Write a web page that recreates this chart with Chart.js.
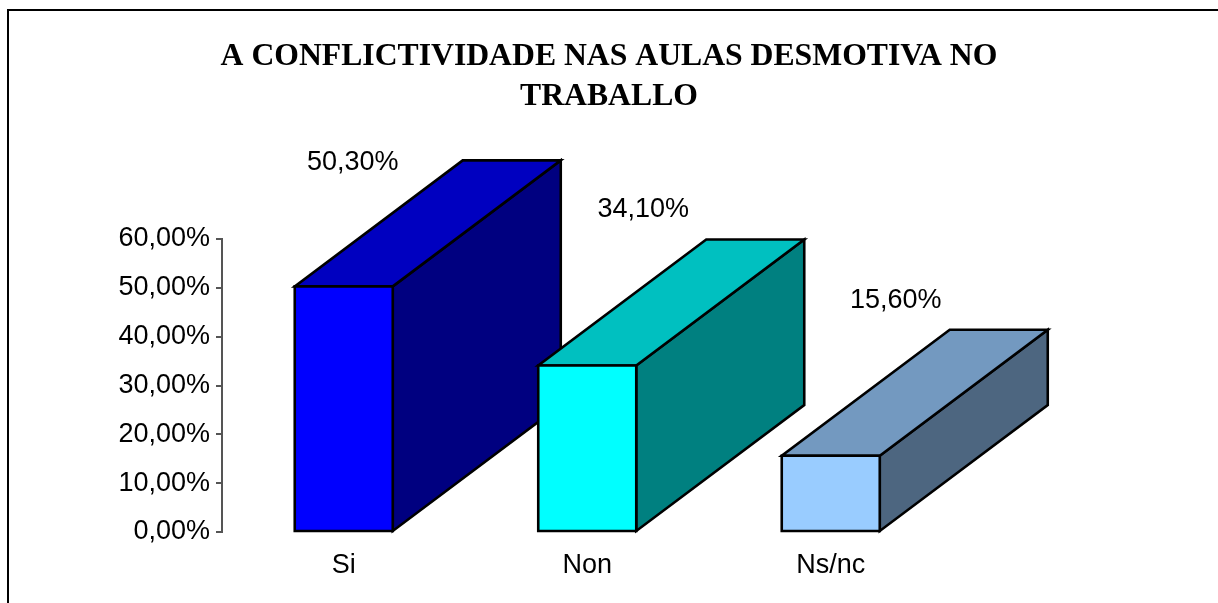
<!DOCTYPE html>
<html><head><meta charset="utf-8">
<script src="https://cdn.jsdelivr.net/npm/chart.js@4.4.0/dist/chart.umd.min.js"></script>
<style>html,body{margin:0;padding:0;background:#fff;overflow:hidden}canvas{display:block}</style>
</head><body>
<canvas id="c" width="1218" height="603"></canvas>
<script>
const categories = ['Si', 'Non', 'Ns/nc'];
const values = [0.503, 0.341, 0.156];
const titleLines = ['A CONFLICTIVIDADE NAS AULAS DESMOTIVA NO', 'TRABALLO'];
const frontColors = ['#0000FF', '#00FFFF', '#99CCFF'];
const topColors = ['#0000C0', '#00C0C0', '#7399C0'];
const sideColors = ['#000080', '#008080', '#4D6680'];

function pct(v) { return (v * 100).toFixed(2).replace('.', ',') + '%'; }

const bar3d = {
  id: 'bar3d',
  beforeDraw(chart, args, opts) {
    const ctx = chart.ctx;
    ctx.save();
    ctx.fillStyle = '#fff';
    ctx.fillRect(0, 0, chart.width, chart.height);
    ctx.strokeStyle = '#000';
    ctx.lineWidth = 2;
    ctx.beginPath();
    ctx.moveTo(8, chart.height);
    ctx.lineTo(8, 10);
    ctx.lineTo(chart.width, 10);
    ctx.stroke();
    ctx.restore();
  },
  beforeDatasetDraw() { return false; },
  afterDatasetsDraw(chart, args, opts) {
    const ctx = chart.ctx;
    const meta = chart.getDatasetMeta(0);
    const ds = chart.data.datasets[0];
    const dx = opts.depthX, dy = opts.depthY;
    ctx.save();
    ctx.lineWidth = 2.6;
    ctx.lineJoin = 'miter';
    ctx.strokeStyle = '#000';
    meta.data.forEach((el, i) => {
      const p = el.getProps(['x', 'y', 'base', 'width'], true);
      const L = p.x - p.width / 2, R = p.x + p.width / 2, T = p.y, B = p.base;
      ctx.beginPath();
      ctx.moveTo(R, T); ctx.lineTo(R + dx, T - dy); ctx.lineTo(R + dx, B - dy); ctx.lineTo(R, B); ctx.closePath();
      ctx.fillStyle = ds.sideColor[i]; ctx.fill(); ctx.stroke();
      ctx.beginPath();
      ctx.moveTo(L, T); ctx.lineTo(R, T); ctx.lineTo(R + dx, T - dy); ctx.lineTo(L + dx, T - dy); ctx.closePath();
      ctx.fillStyle = ds.topColor[i]; ctx.fill(); ctx.stroke();
      ctx.beginPath();
      ctx.rect(L, T, R - L, B - T);
      ctx.fillStyle = ds.backgroundColor[i]; ctx.fill(); ctx.stroke();
    });
    ctx.restore();
  },
  afterDraw(chart, args, opts) {
    const ctx = chart.ctx;
    const meta = chart.getDatasetMeta(0);
    const ds = chart.data.datasets[0];
    ctx.save();
    ctx.font = '27px "Liberation Sans", Arial, sans-serif';
    ctx.fillStyle = '#000';
    ctx.textAlign = 'center';
    ctx.textBaseline = 'alphabetic';
    meta.data.forEach((el, i) => {
      const p = el.getProps(['x', 'y'], true);
      const o = opts.labelOffsets[i];
      ctx.fillText(pct(ds.data[i]), p.x + o[0], p.y + o[1]);
    });
    ctx.restore();
  }
};

new Chart(document.getElementById('c'), {
  type: 'bar',
  data: {
    labels: categories,
    datasets: [{
      data: values,
      backgroundColor: frontColors,
      topColor: topColors,
      sideColor: sideColors,
      borderColor: '#000',
      borderWidth: 2,
      categoryPercentage: 1,
      barPercentage: 0.4025
    }]
  },
  options: {
    responsive: false,
    animation: false,
    layout: { padding: 0 },
    plugins: {
      legend: { display: false },
      tooltip: { enabled: false },
      title: {
        display: true,
        text: titleLines,
        color: '#000',
        font: { family: '"Liberation Serif", "Times New Roman", serif', size: 31.7, weight: 'bold', lineHeight: '40px' },
        padding: { top: 37, bottom: 122 }
      },
      bar3d: { depthX: 168, depthY: 126, labelOffsets: [[9, -116], [56, -148], [65, -148]] }
    },
    scales: {
      x: {
        grid: { display: false, drawTicks: false },
        border: { display: false },
        ticks: { color: '#000', font: { family: '"Liberation Sans", Arial, sans-serif', size: 27 }, padding: 17 },
        afterFit: (s) => { s.height = 71; }
      },
      y: {
        min: 0, max: 0.6,
        grid: { drawOnChartArea: false, drawTicks: true, tickLength: 6, tickColor: '#555', lineWidth: 2 },
        border: { display: true, color: '#555', width: 2 },
        ticks: { stepSize: 0.1, color: '#000', padding: 6, font: { family: '"Liberation Sans", Arial, sans-serif', size: 27 }, callback: (v) => pct(v) },
        afterFit: (s) => { s.width = 222; }
      },
      y2: {
        position: 'right',
        min: 0, max: 1,
        grid: { display: false, drawTicks: false },
        border: { display: false },
        ticks: { display: false },
        afterFit: (s) => { s.width = 265.5; }
      }
    }
  },
  plugins: [bar3d]
});
</script>
</body></html>
